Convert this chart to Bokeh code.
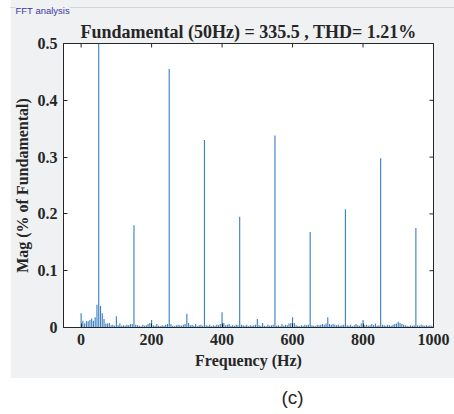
from bokeh.plotting import figure
from bokeh.models import Range1d, Label, FixedTicker, Title
from bokeh.layouts import column
from bokeh.embed import file_html
from bokeh.resources import INLINE

# ---------------- data ----------------
freq_hz = list(range(0, 1001, 5))
mag_pct = [
    0.025, 0.012, 0.007, 0.011, 0.011, 0.013, 0.016, 0.012, 0.018, 0.040,   # 0-45
    100.0, 0.038, 0.025, 0.015, 0.007, 0.007, 0.008, 0.004, 0.005, 0.003,   # 50-95
    0.020, 0.004, 0.007, 0.003, 0.004, 0.003, 0.005, 0.004, 0.006, 0.006,   # 100-145
    0.180, 0.005, 0.004, 0.003, 0.002, 0.005, 0.003, 0.004, 0.006, 0.008,   # 150-195
    0.013, 0.004, 0.003, 0.006, 0.003, 0.002, 0.004, 0.003, 0.005, 0.006,   # 200-245
    0.455, 0.006, 0.003, 0.002, 0.004, 0.005, 0.004, 0.003, 0.005, 0.006,   # 250-295
    0.024, 0.008, 0.004, 0.005, 0.003, 0.006, 0.002, 0.004, 0.005, 0.003,   # 300-345
    0.330, 0.004, 0.003, 0.005, 0.002, 0.004, 0.003, 0.005, 0.004, 0.006,   # 350-395
    0.027, 0.008, 0.004, 0.005, 0.006, 0.003, 0.004, 0.003, 0.005, 0.004,   # 400-445
    0.195, 0.005, 0.004, 0.003, 0.005, 0.002, 0.004, 0.003, 0.004, 0.005,   # 450-495
    0.015, 0.004, 0.003, 0.008, 0.003, 0.002, 0.005, 0.003, 0.004, 0.005,   # 500-545
    0.338, 0.003, 0.004, 0.002, 0.006, 0.003, 0.005, 0.004, 0.007, 0.008,   # 550-595
    0.018, 0.008, 0.004, 0.003, 0.002, 0.004, 0.003, 0.005, 0.004, 0.005,   # 600-645
    0.168, 0.004, 0.003, 0.002, 0.005, 0.004, 0.005, 0.006, 0.005, 0.007,   # 650-695
    0.018, 0.006, 0.005, 0.006, 0.005, 0.004, 0.005, 0.003, 0.004, 0.005,   # 700-745
    0.208, 0.004, 0.003, 0.005, 0.002, 0.004, 0.006, 0.004, 0.003, 0.007,   # 750-795
    0.013, 0.004, 0.005, 0.003, 0.004, 0.006, 0.004, 0.007, 0.003, 0.004,   # 800-845
    0.298, 0.005, 0.004, 0.003, 0.005, 0.004, 0.003, 0.005, 0.006, 0.007,   # 850-895
    0.010, 0.008, 0.006, 0.005, 0.004, 0.003, 0.002, 0.004, 0.003, 0.004,   # 900-945
    0.175, 0.004, 0.003, 0.005, 0.004, 0.003, 0.004, 0.003, 0.004, 0.003,   # 950-995
    0.004,                                                                 # 1000
]
x_ticks = [0, 200, 400, 600, 800, 1000]
y_ticks = [0, 0.1, 0.2, 0.3, 0.4, 0.5]
y_tick_labels = {0: "0", 0.1: "0.1", 0.2: "0.2", 0.3: "0.3", 0.4: "0.4", 0.5: "0.5"}
title_text = "Fundamental (50Hz) = 335.5 , THD= 1.21%"
x_label = "Frequency (Hz)"
y_label = "Mag (% of Fundamental)"
panel_label = "FFT analysis"
caption = "(c)"

# ---------------- style ----------------
BG = "#f0f1f3"
EDGE = "#d4d5d8"
INK = "#262626"
BAR = "#3b80c3"
SERIF = "Liberation Serif"
X_MIN, X_MAX = -50, 1000
Y_MIN, Y_MAX = 0, 0.5

p = figure(width=444, height=378,
           x_range=Range1d(X_MIN, X_MAX), y_range=Range1d(Y_MIN, Y_MAX),
           output_backend="svg", toolbar_location=None,
           min_border_left=53, min_border_right=21,
           min_border_top=42, min_border_bottom=51,
           background_fill_color="white", border_fill_color=None,
           outline_line_color=INK, margin=(0, 0, 0, 10))
# grey group-box panel with its thin top/left edge lines
p.styles = {
    "background": (
        f"linear-gradient(to bottom, transparent 7px, {EDGE} 7px, {EDGE} 8px, transparent 8px), "
        f"linear-gradient(to right, #fbfbfc 1px, transparent 1px), {BG}"
    )
}

p.vbar(x=freq_hz, top=mag_pct, width=3.2, bottom=0,
       fill_color=BAR, line_color=None)

p.xgrid.visible = False
p.ygrid.visible = False

# outermost title: the small group-box caption at the top-left
p.title.text = panel_label
p.title.align = "left"
p.title.offset = -48
p.title.text_font = "Liberation Sans"
p.title.text_font_style = "normal"
p.title.text_font_size = "9.5px"
p.title.text_color = "#3a3aa0"
p.title.standoff = 4
p.title.background_fill_color = BG

# chart title, closest to the frame
p.add_layout(Title(text=title_text, align="center",
                   text_font=SERIF, text_font_style="bold",
                   text_font_size="18px", text_color=INK,
                   standoff=4), "above")

def style_axis(ax, ticks):
    ax.ticker = FixedTicker(ticks=ticks)
    ax.major_tick_in = 4
    ax.major_tick_out = 0
    ax.minor_tick_in = 0
    ax.minor_tick_out = 0
    ax.axis_line_color = INK
    ax.major_tick_line_color = INK
    ax.major_label_text_font = SERIF
    ax.major_label_text_font_style = "bold"
    ax.major_label_text_color = INK
    ax.major_label_text_font_size = "16px"
    ax.axis_label_text_font = SERIF
    ax.axis_label_text_font_style = "bold"
    ax.axis_label_text_color = INK
    ax.axis_label_text_font_size = "16px"

xa = p.xaxis[0]
style_axis(xa, x_ticks)
xa.axis_label = x_label
xa.major_label_standoff = 6
xa.axis_label_standoff = 4

ya = p.yaxis[0]
style_axis(ya, y_ticks)
ya.axis_label = y_label
ya.major_label_overrides = y_tick_labels
ya.major_label_standoff = 6
ya.axis_label_standoff = 4

# inward tick marks on the top and right edges of the box (clipped half-dashes)
p.scatter(x=x_ticks, y=[Y_MAX] * len(x_ticks), marker="dash", angle=1.5708,
          size=8, line_color=INK, line_width=1)
p.scatter(x=[X_MAX] * len(y_ticks), y=y_ticks, marker="dash",
          size=8, line_color=INK, line_width=1)

cap = figure(width=454, height=36, output_backend="svg", toolbar_location=None,
             x_axis_type=None, y_axis_type=None, min_border=0,
             x_range=Range1d(0, 1), y_range=Range1d(0, 1),
             border_fill_color="white", background_fill_color="white",
             outline_line_color=None)
cap.xgrid.visible = False
cap.ygrid.visible = False
cap.add_layout(Label(x=239, y=17, x_units="screen", y_units="screen",
                     text=caption, text_font="Liberation Sans",
                     text_font_size="19px", text_color=INK,
                     text_align="center", text_baseline="middle"))

layout = column(p, cap, spacing=0, styles={"background-color": "white"})
open("out.html", "w").write(file_html(layout, INLINE))
